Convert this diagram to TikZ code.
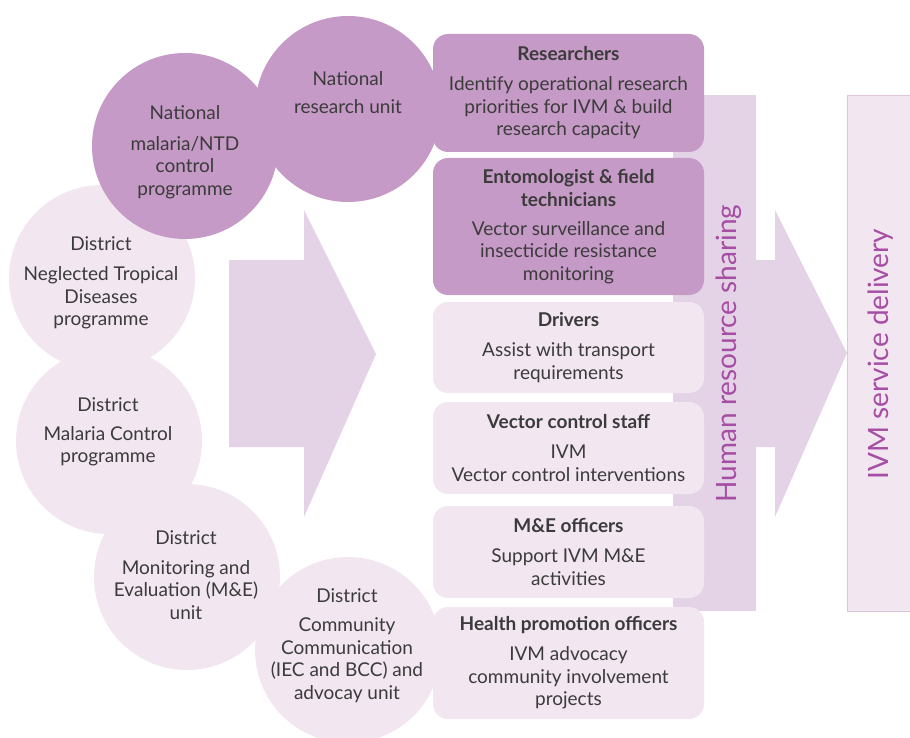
\documentclass[tikz,border=0pt]{standalone}
\usepackage{fontspec}
\setmainfont{Lato}
\definecolor{plumdark}{HTML}{C69AC6}
\definecolor{plumlight}{HTML}{F2E6F1}
\definecolor{plumarrow}{HTML}{E4D3E6}
\definecolor{plumline}{HTML}{DDC6DD}
\definecolor{plumtext}{HTML}{A64DA4}
\definecolor{inkgrey}{HTML}{3B3B3B}

\begin{document}
\begin{tikzpicture}[x=1pt,y=-1pt,
    disc/.style={circle,minimum size=186pt,inner sep=0pt},
    disctext/.style={align=center,text=inkgrey,font=\fontsize{19}{22.5}\selectfont},
    role/.style={rounded corners=15pt,minimum width=271pt,inner sep=0pt,align=center,
      text=inkgrey,font=\fontsize{19}{22.5}\selectfont},
    bigword/.style={rotate=90,text=plumtext,font=\fontsize{28}{30}\selectfont}]
\useasboundingbox (0,0) rectangle (910,738);

% arrows in the background
\fill[plumarrow] (229,260) -- (304,260) -- (304,210) -- (376,354) -- (304,517) -- (304,447) -- (229,447) -- cycle;
\fill[plumarrow] (673,95) rectangle (756,611);
\fill[plumarrow] (700,260) -- (775,260) -- (775,210) -- (847,353) -- (775,517) -- (775,447) -- (700,447) -- cycle;
\fill[plumlight] (847,95) rectangle (910,611);
\draw[plumline] (910,95) -- (847,95) -- (847,611) -- (910,611);

% district and national units
\node[disc,fill=plumlight] (dntd) at (102,278) {};
\node[disc,fill=plumlight] (dmal) at (109,441) {};
\node[disc,fill=plumlight] (dme) at (187,577) {};
\node[disc,fill=plumlight] (dcom) at (348,650) {};
\node[disc,fill=plumdark] (natmal) at (185,146) {};
\node[disc,fill=plumdark] (natres) at (348,109) {};

\node[disctext] (natmalT) at (185,152) {National\\[8pt]malaria/NTD\\control\\programme};
\node[disctext] (natresT) at (348,92.5) {National\\[6pt]research unit};
\node[disctext] (dntdT) at (101,283) {District\\[8pt]Neglected Tropical\\Diseases\\programme};
\node[disctext] (dmalT) at (108,432) {District\\[6pt]Malaria Control\\programme};
\node[disctext] (dmeT) at (186,575) {District\\[7pt]Monitoring and\\Evaluation (M\&E)\\unit};
\node[disctext] (dcomT) at (347,645.5) {District\\[7pt]Community\\Communication\\(IEC and BCC) and\\advocay unit};

% staff roles
\node[role,fill=plumdark,minimum height=118pt] (res) at (568.5,93)
  {\textbf{Researchers}\\[7.5pt]Identify operational research\\priorities for IVM \& build\\research capacity};
\node[role,fill=plumdark,minimum height=137pt] (ento) at (568.5,226.5)
  {\textbf{Entomologist \& field}\\\textbf{technicians}\\[6.5pt]Vector surveillance and\\insecticide resistance\\monitoring};
\node[role,fill=plumlight,minimum height=91pt] (drv) at (568.5,347.5)
  {\textbf{Drivers}\\[7.5pt]Assist with transport\\requirements};
\node[role,fill=plumlight,minimum height=92pt] (vcs) at (568.5,448)
  {\textbf{Vector control staff}\\[7.5pt]IVM\\Vector control interventions};
\node[role,fill=plumlight,minimum height=92pt] (mne) at (568.5,552)
  {\textbf{M\&E officers}\\[7.5pt]Support IVM M\&E\\activities};
\node[role,fill=plumlight,minimum height=112pt] (hpo) at (568.5,663)
  {\textbf{Health promotion officers}\\[7.5pt]IVM advocacy\\community involvement\\projects};

\node[bigword] (hrs) at (729,353.5) {Human resource sharing};
\node[bigword] (ivmsd) at (881,354) {IVM service delivery};
\end{tikzpicture}
\end{document}
